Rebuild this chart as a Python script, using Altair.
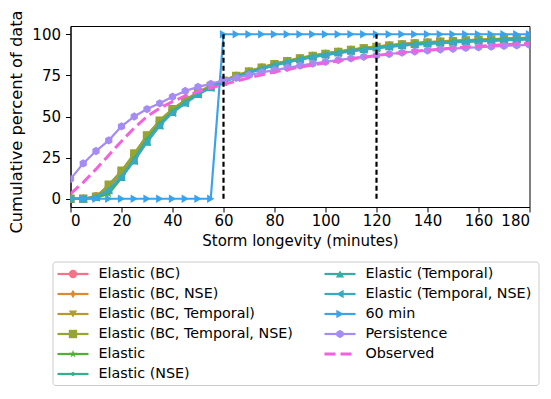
import altair as alt
import pandas as pd

# ---------------- data ----------------
minutes = [0, 5, 10, 15, 20, 25, 30, 35, 40, 45, 50, 55, 60, 65, 70, 75, 80, 85, 90,
           95, 100, 105, 110, 115, 120, 125, 130, 135, 140, 145, 150, 155, 160, 165,
           170, 175, 180]

names = ["Elastic (BC)", "Elastic (BC, NSE)", "Elastic (BC, Temporal)",
         "Elastic (BC, Temporal, NSE)", "Elastic", "Elastic (NSE)",
         "Elastic (Temporal)", "Elastic (Temporal, NSE)", "60 min", "Persistence",
         "Observed"]

elastic_bc = [0, 0, 1.5, 7, 15.5, 26, 37.5, 47, 54, 59.5, 64.5, 68.3, 71.7, 74.6, 77.3, 79.6,
              81.8, 83.6, 85.3, 86.8, 88.1, 89.3, 90.4, 91.4, 92.3, 93.1, 93.8, 94.4, 94.9,
              95.4, 95.8, 96.2, 96.5, 96.8, 97.1, 97.4, 97.7]
elastic_bc_nse = [0, 0, 1.5, 7.5, 16, 26.5, 38, 47.5, 54.5, 60, 65, 68.7, 72, 74.9, 77.6, 79.9,
                  82.1, 83.9, 85.6, 87.1, 88.4, 89.6, 90.7, 91.7, 92.6, 93.4, 94.1, 94.7, 95.2,
                  95.7, 96.1, 96.5, 96.8, 97.1, 97.4, 97.7, 98]
elastic_bc_temporal = [0, 0, 1.2, 8, 16.5, 27, 38.5, 47.5, 54.5, 59.8, 64.8, 68.5, 71.8, 74.7,
                       77.4, 79.7, 81.9, 83.7, 85.4, 86.9, 88.2, 89.4, 90.5, 91.5, 92.4, 93.2,
                       93.9, 94.5, 95, 95.5, 95.9, 96.3, 96.6, 96.9, 97.2, 97.5, 97.8]
elastic_bc_temporal_nse = [0, 0, 1.2, 8.5, 17, 27.5, 38.5, 47.5, 54.5, 59.8, 64.6, 68.4, 71.7,
                           74.6, 77.3, 79.6, 81.8, 83.6, 85.3, 86.8, 88.1, 89.3, 90.4, 91.4,
                           92.3, 93.1, 93.8, 94.4, 94.9, 95.4, 95.8, 96.2, 96.5, 96.8, 97.1,
                           97.4, 97.7]
elastic = [0, 0, 0.5, 3, 12.5, 24, 36, 45.5, 53, 58.5, 63.7, 67.8, 71.3, 74.2, 76.9, 79.2,
           81.4, 83.2, 84.9, 86.4, 87.7, 88.9, 90, 91, 91.9, 92.7, 93.4, 94, 94.5, 95, 95.4,
           95.8, 96.1, 96.4, 96.7, 97, 97.3]
elastic_nse = [0, 0, 0.8, 4.5, 13.5, 24.5, 36, 45.5, 53, 58.6, 63.7, 67.8, 71.3, 74.2, 76.9,
               79.2, 81.4, 83.2, 84.9, 86.4, 87.7, 88.9, 90, 91, 91.9, 92.7, 93.4, 94, 94.5,
               95, 95.4, 95.8, 96.1, 96.4, 96.7, 97, 97.3]
elastic_temporal = [0, 0, 0.8, 5, 13, 23, 34.5, 44.5, 52.5, 58.3, 63.5, 67.6, 71.1, 74, 76.7,
                    79, 81.2, 83, 84.7, 86.2, 87.5, 88.7, 89.8, 90.8, 91.7, 92.5, 93.2, 93.8,
                    94.3, 94.8, 95.2, 95.6, 95.9, 96.2, 96.5, 96.8, 97.1]
elastic_temporal_nse = [0, 0, 0.8, 5.5, 13.5, 23, 34.5, 44.5, 52.3, 58, 63.3, 67.4, 70.9, 73.8,
                        76.5, 78.8, 81, 82.8, 84.5, 86, 87.3, 88.5, 89.6, 90.6, 91.5, 92.3, 93,
                        93.6, 94.1, 94.6, 95, 95.4, 95.7, 96, 96.3, 96.6, 96.9]
sixty_min = [0, 0, 0, 0, 0, 0, 0, 0, 0, 0, 0, 0, 100, 100, 100, 100, 100, 100, 100, 100, 100,
             100, 100, 100, 100, 100, 100, 100, 100, 100, 100, 100, 100, 100, 100, 100, 100]
persistence = [12, 21.5, 29, 35.5, 44, 50, 54.5, 58, 62, 65.5, 68, 69.8, 72, 73.5, 75.2, 76.8,
               78.2, 79.6, 80.9, 82.1, 83.2, 84.3, 85.3, 86.3, 87.2, 88, 88.8, 89.5, 90.1,
               90.7, 91.2, 91.7, 92.1, 92.5, 92.9, 93.2, 93.5]
observed = [3, 10, 18, 26.5, 35, 43, 50, 55, 59, 62.5, 65, 67.3, 69.5, 71.5, 73.5, 75.3, 77,
            78.5, 80, 81.3, 82.6, 83.8, 85, 86, 87, 88, 88.8, 89.6, 90.3, 91, 91.6, 92.2,
            92.7, 93.2, 93.6, 94, 94.4]

series_values = [elastic_bc, elastic_bc_nse, elastic_bc_temporal, elastic_bc_temporal_nse,
                 elastic, elastic_nse, elastic_temporal, elastic_temporal_nse, sixty_min,
                 persistence, observed]

vline_minutes = [60, 120]
vline_low = [0, 0]
vline_high = [100, 100]

x_ticks = [0, 20, 40, 60, 80, 100, 120, 140, 160, 180]
y_ticks = [0, 25, 50, 75, 100]

# ---------------- styles ----------------
colors = ["#f77189", "#dc8932", "#b39a31", "#97a431", "#50b131", "#34ae8c",
          "#36ada4", "#38a9c0", "#3ba3ec", "#a48cf4", "#f461dd"]

STAR = ("M0,-1L0.225,-0.309L0.951,-0.309L0.363,0.118L0.588,0.809L0,0.382"
        "L-0.588,0.809L-0.363,0.118L-0.951,-0.309L-0.225,-0.309Z")
THIN_DIAMOND = "M0,-1L0.6,0L0,1L-0.6,0Z"
DOT = "M0.45,0A0.45,0.45 0 1,1 -0.45,0A0.45,0.45 0 1,1 0.45,0Z"
HEXAGON = "M0,-1L0.866,-0.5L0.866,0.5L0,1L-0.866,0.5L-0.866,-0.5Z"
shapes = ["circle", THIN_DIAMOND, "triangle-down", "square", STAR, DOT,
          "triangle-up", "triangle-left", "triangle-right", HEXAGON, None]

FONT = "DejaVu Sans"
LW = 2.2
MSIZE = 70

# layout (plot area and page)
W, H = 459, 181
PAD = {"left": 62.5, "top": 18, "right": 13.5, "bottom": 179}

rows = []
for name, vals in zip(names, series_values):
    for m, v in zip(minutes, vals):
        rows.append({"series": name, "minute": m, "pct": v})
df = pd.DataFrame(rows)

x_enc = alt.X("minute:Q", scale=alt.Scale(domain=[0, 180], nice=False, zero=False),
              axis=alt.Axis(values=x_ticks, title="Storm longevity (minutes)"))
y_enc = alt.Y("pct:Q", scale=alt.Scale(domain=[-5, 105], nice=False, zero=False),
              axis=alt.Axis(values=y_ticks, title="Cumulative percent of data",
                            titleY=95.5))

main_layers = []
for name, col, shp in zip(names, colors, shapes):
    base = alt.Chart(df).transform_filter(alt.datum.series == name)
    if name == "Observed":
        main_layers.append(base.mark_line(color=col, strokeWidth=3, strokeDash=[11, 5],
                                          clip=True).encode(x=x_enc, y=y_enc))
    else:
        main_layers.append(base.mark_line(color=col, strokeWidth=LW, clip=True)
                           .encode(x=x_enc, y=y_enc))
        main_layers.append(base.mark_point(shape=shp, size=MSIZE, filled=True, color=col,
                                           opacity=1, clip=True)
                           .encode(x=x_enc, y=y_enc))

vdf = pd.DataFrame({"minute": vline_minutes, "pct": vline_low, "pct2": vline_high})
main_layers.append(alt.Chart(vdf).mark_rule(color="black", strokeWidth=2.2,
                                            strokeDash=[5, 3])
                   .encode(x=x_enc, y=y_enc, y2="pct2:Q"))

main = alt.layer(*main_layers)

# ---------------- legend (two columns, column-major like matplotlib) ----------------
leg_rows = []
for i, name in enumerate(names):
    leg_rows.append({"series": name, "col": i // 6, "row": i % 6})
ldf = pd.DataFrame(leg_rows)

lx = alt.X("col:Q", scale=alt.Scale(domain=[0, 1], range=[2.5, 269.5]), axis=None)
ly = alt.Y("row:Q", scale=alt.Scale(domain=[0, 5], range=[248, 348]), axis=None)

box = alt.Chart(pd.DataFrame({"a": [0]})).mark_rect(
    fill="white", stroke="#cccccc", strokeWidth=1, cornerRadius=3
).encode(x=alt.value(-17.5), x2=alt.value(468.5), y=alt.value(236), y2=alt.value(359.5))

legend_layers = [box]
for name, col, shp in zip(names, colors, shapes):
    lbase = alt.Chart(ldf).transform_filter(alt.datum.series == name)
    if name == "Observed":
        legend_layers.append(lbase.mark_point(shape="stroke", size=961, color=col,
                                              strokeWidth=3, strokeDash=[11, 5], opacity=1)
                             .encode(x=lx, y=ly))
    else:
        legend_layers.append(lbase.mark_point(shape="stroke", size=961, color=col,
                                              strokeWidth=LW, opacity=1)
                             .encode(x=lx, y=ly))
        legend_layers.append(lbase.mark_point(shape=shp, size=MSIZE, filled=True, color=col,
                                              opacity=1)
                             .encode(x=lx, y=ly))
legend_layers.append(alt.Chart(ldf).mark_text(align="left", baseline="middle", dx=25.5,
                                              fontSize=14.3, font=FONT, color="black")
                     .encode(x=lx, y=ly, text="series:N"))

legend = alt.layer(*legend_layers)

chart = alt.layer(main, legend).resolve_scale(x="independent", y="independent").properties(
    width=W, height=H,
    autosize=alt.AutoSizeParams(type="none"),
    padding=PAD,
).configure(font=FONT).configure_view(stroke="black", strokeWidth=1).configure_axis(
    labelFontSize=15, titleFontSize=15, titleFontWeight="normal", labelFont=FONT,
    titleFont=FONT, labelColor="black", titleColor="black", domainColor="black",
    tickColor="black", tickSize=5, grid=False, domainWidth=1, tickWidth=1,
).configure_axisX(labelPadding=1.5, titlePadding=4.5).configure_axisY(
    labelPadding=5, titlePadding=7, titleFontSize=16.3
)

chart.save("out.html", embed_options={"renderer": "svg", "actions": False})
